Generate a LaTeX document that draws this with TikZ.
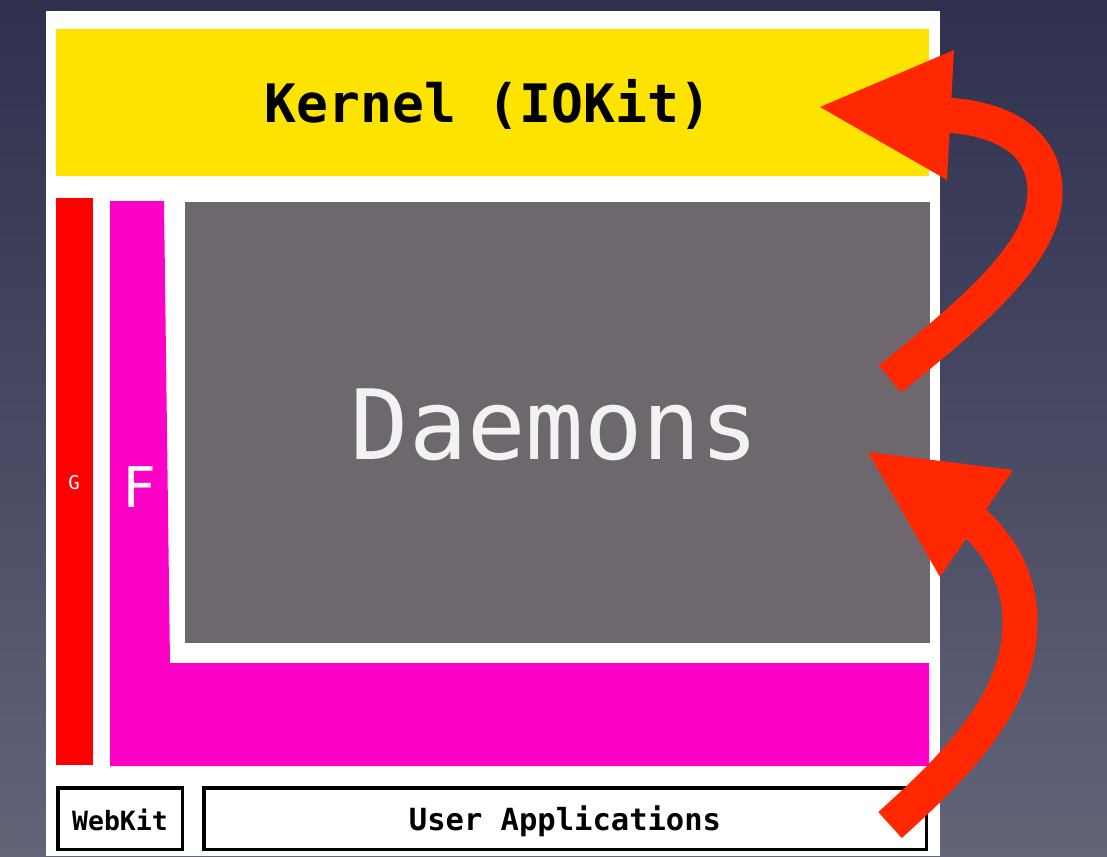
\documentclass[tikz,border=0pt]{standalone}
\usepackage{fontspec}
\setmonofont{DejaVu Sans Mono}
\definecolor{bgtop}{RGB}{46,48,78}
\definecolor{bgbot}{RGB}{98,100,120}
\definecolor{kyellow}{RGB}{252,228,0}
\definecolor{gred}{RGB}{255,0,0}
\definecolor{fmag}{RGB}{255,0,200}
\definecolor{dgray}{RGB}{110,104,110}
\definecolor{arr}{RGB}{255,40,0}
\definecolor{dtext}{RGB}{242,242,242}
\tikzset{
  block/.style={inner sep=0pt, outer sep=0pt, draw=none},
  outlined/.style={inner sep=0pt, outer sep=0pt, draw=black, line width=3.5pt, fill=white},
  bigarrow/.style={draw=arr, line width=35pt, line cap=butt},
  arrowhead/.style={fill=arr, draw=none}
}
\begin{document}
\begin{tikzpicture}[x=1pt,y=-1pt]
\useasboundingbox (0,0) rectangle (1107,856);
% background
\shade[top color=bgtop, bottom color=bgbot] (0,0) rectangle (1107,856);
% white panel
\fill[white] (46,11) rectangle (940,856);
% kernel
\node[block, fill=kyellow, minimum width=873pt, minimum height=147pt] (kernel) at (492.5,102.5) {};
\node[font=\ttfamily\bfseries\fontsize{53}{56}\selectfont] (klabel) at (488,104) {Kernel (IOKit)};
% G bar
\node[block, fill=gred, minimum width=37pt, minimum height=567pt] (gbar) at (74.5,481.5) {};
\node[text=white, font=\ttfamily\fontsize{19}{20}\selectfont] (glabel) at (74,483) {G};
% F L-shape
\fill[fmag] (110,201) -- (164,201) -- (170,663) -- (929,663) -- (929,766) -- (110,766) -- cycle;
\node[text=white, font=\ttfamily\fontsize{56}{60}\selectfont] (flabel) at (139,487) {F};
% Daemons
\node[block, fill=dgray, minimum width=745pt, minimum height=441pt] (daemons) at (557.5,422.5) {};
\node[text=dtext, font=\ttfamily\fontsize{97}{100}\selectfont] (dlabel) at (555,425) {Daemons};
% bottom boxes
\node[outlined, minimum width=124.5pt, minimum height=61.5pt] (webkit) at (120,818.5) {};
\node[font=\ttfamily\bfseries\fontsize{26.5}{28}\selectfont] (wlabel) at (120,820) {WebKit};
\node[outlined, minimum width=722.5pt, minimum height=61.5pt] (userapps) at (565,818.5) {};
\node[font=\ttfamily\bfseries\fontsize{30.5}{32}\selectfont] (ulabel) at (565,821) {User Applications};
% upper arrow
\draw[bigarrow] (890,379) .. controls (965,318) and (1045,255) .. (1045,192)
                .. controls (1045,140) and (1000,118) .. (945,115);
\fill[arrowhead] (820,107) -- (954,50) -- (947,180) -- cycle;
% lower arrow
\draw[bigarrow] (890,825) .. controls (960,762) and (1020,700) .. (1020,622)
                .. controls (1020,580) and (1002,548) .. (972,520);
\fill[arrowhead] (868,452) -- (1013,470) -- (940,577) -- cycle;
\end{tikzpicture}
\end{document}
